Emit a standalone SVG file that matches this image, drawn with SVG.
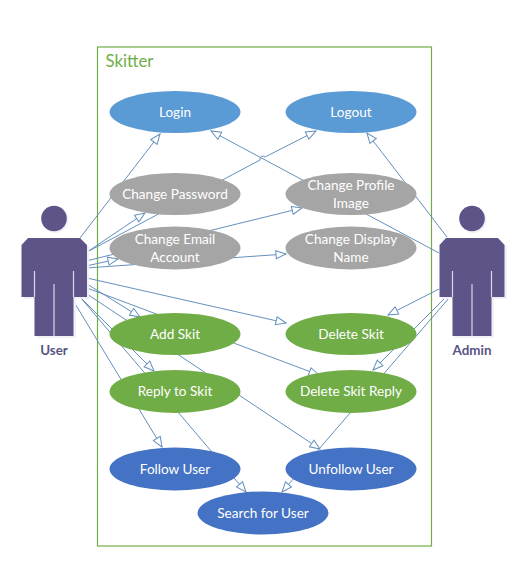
<svg xmlns="http://www.w3.org/2000/svg" width="531" height="577" viewBox="0 0 531 577">
<style>
text{font-family:"Lato","Open Sans","Liberation Sans",sans-serif;text-anchor:middle}
.t{font-size:13.600px;fill:#fff}
.a{font-size:13.400px;font-weight:700;fill:#5a5385}
.c line,.c path{stroke:#6390bd;stroke-width:1;fill:none}
.h{marker-end:url(#tri)}
.blue1{fill:#5b9bd5}.gray{fill:#a5a5a5}.green{fill:#70ad47}.blue2{fill:#4472c4}
.body{fill:#5f5488}.shadow{fill:#f1f0f6}.slit{stroke:#d9d6e6;stroke-width:1.2}
</style>
<defs>
<marker id="tri" markerUnits="userSpaceOnUse" markerWidth="12" markerHeight="10" refX="11" refY="5" viewBox="0 0 12 10" orient="auto">
<path d="M11,5 L1,1 L1,9 Z" fill="#fff" stroke="#6390bd" stroke-width="1"/>
</marker>
</defs>
<rect width="531" height="577" fill="#fff"/>
<g id="system">
<rect x="97.500" y="47" width="334" height="499" fill="#fff" stroke="#70ad47" stroke-width="1.200"/>
<text x="129.500" y="67" style="font-size:16.800px;fill:#70ad47">Skitter</text>
</g>
<g id="connectors" class="c">
<line class="h" x1="80" y1="238" x2="160" y2="134"/>
<path class="h" d="M87,252 L260,160 A3,3 0 0 1 265,157 L316,131"/>
<line class="h" x1="87" y1="252" x2="145" y2="213"/>
<line class="h" x1="86" y1="266" x2="118" y2="259"/>
<line class="h" x1="86" y1="261" x2="302" y2="208"/>
<line class="h" x1="86" y1="268" x2="286" y2="254"/>
<line class="h" x1="87" y1="278" x2="286" y2="323"/>
<line class="h" x1="87" y1="284" x2="140" y2="317"/>
<line class="h" x1="87" y1="288" x2="319" y2="375"/>
<line class="h" x1="87" y1="294" x2="320" y2="449"/>
<line class="h" x1="80" y1="297" x2="154" y2="371"/>
<line class="h" x1="74" y1="302" x2="162" y2="447"/>
<line class="h" x1="80" y1="297" x2="246" y2="492"/>
<line class="h" x1="447" y1="237" x2="367" y2="133"/>
<line class="h" x1="439" y1="253" x2="211" y2="131"/>
<line class="h" x1="439" y1="289" x2="388" y2="315"/>
<line class="h" x1="445" y1="298" x2="373" y2="370"/>
<line class="h" x1="449" y1="298" x2="282" y2="492"/>
</g>
<g id="login"><ellipse class="blue1" cx="175" cy="112" rx="65.500" ry="21"/><text class="t" x="175" y="116.500">Login</text></g>
<g id="logout"><ellipse class="blue1" cx="351" cy="112" rx="65.500" ry="21"/><text class="t" x="351" y="116.500">Logout</text></g>
<g id="change-password"><ellipse class="gray" cx="175" cy="194" rx="65.500" ry="21"/><text class="t" x="175" y="198.500">Change Password</text></g>
<g id="change-profile-image"><ellipse class="gray" cx="351" cy="194" rx="65.500" ry="21"/><text class="t" x="351" y="190">Change Profile</text><text class="t" x="351" y="207.500">Image</text></g>
<g id="change-email"><ellipse class="gray" cx="175" cy="248" rx="65.500" ry="21.500"/><text class="t" x="175" y="244">Change Email</text><text class="t" x="175" y="262">Account</text></g>
<g id="change-display-name"><ellipse class="gray" cx="351" cy="248" rx="65.500" ry="21.500"/><text class="t" x="351" y="244">Change Display</text><text class="t" x="351" y="262">Name</text></g>
<g id="add-skit"><ellipse class="green" cx="175" cy="334" rx="65.500" ry="21"/><text class="t" x="175" y="338.500">Add Skit</text></g>
<g id="delete-skit"><ellipse class="green" cx="351" cy="334" rx="65.500" ry="21"/><text class="t" x="351" y="338.500">Delete Skit</text></g>
<g id="reply-to-skit"><ellipse class="green" cx="175" cy="391.500" rx="65.500" ry="21.500"/><text class="t" x="175" y="396">Reply to Skit</text></g>
<g id="delete-skit-reply"><ellipse class="green" cx="351" cy="391.500" rx="65.500" ry="21.500"/><text class="t" x="351" y="396">Delete Skit Reply</text></g>
<g id="follow-user"><ellipse class="blue2" cx="175" cy="469" rx="65.500" ry="21.500"/><text class="t" x="175" y="473.500">Follow User</text></g>
<g id="unfollow-user"><ellipse class="blue2" cx="351" cy="469" rx="65.500" ry="21.500"/><text class="t" x="351" y="473.500">Unfollow User</text></g>
<g id="search-for-user"><ellipse class="blue2" cx="263" cy="513" rx="65.500" ry="21.500"/><text class="t" x="263" y="517.500">Search for User</text></g>
<g id="user">
<path class="shadow" d="M30,240 H82 L89,247 V299 H76 V338 H37 V299 H24 V247 Z"/>
<circle class="shadow" cx="55.500" cy="220" r="13"/>
<circle class="body" cx="54" cy="218.500" r="12.800"/>
<path class="body" d="M28,238 H80 L87,245 V297 H73.500 V336 H34.500 V297 H21.500 V245 Z"/>
<path class="slit" d="M34.500,271 V297 M73.500,271 V297 M54,284 V336" fill="none"/>
<text class="a" x="54" y="355">User</text>
</g>
<g id="admin">
<path class="shadow" d="M448,240 H500 L507,247 V299 H494 V338 H455 V299 H442 V247 Z"/>
<circle class="shadow" cx="473.500" cy="220" r="13"/>
<circle class="body" cx="472" cy="218.500" r="12.800"/>
<path class="body" d="M446,238 H498 L504.500,245 V297 H491.500 V336 H452.500 V297 H439.500 V245 Z"/>
<path class="slit" d="M452.500,271 V297 M491.500,271 V297 M472,284 V336" fill="none"/>
<text class="a" x="472" y="355">Admin</text>
</g>
</svg>
